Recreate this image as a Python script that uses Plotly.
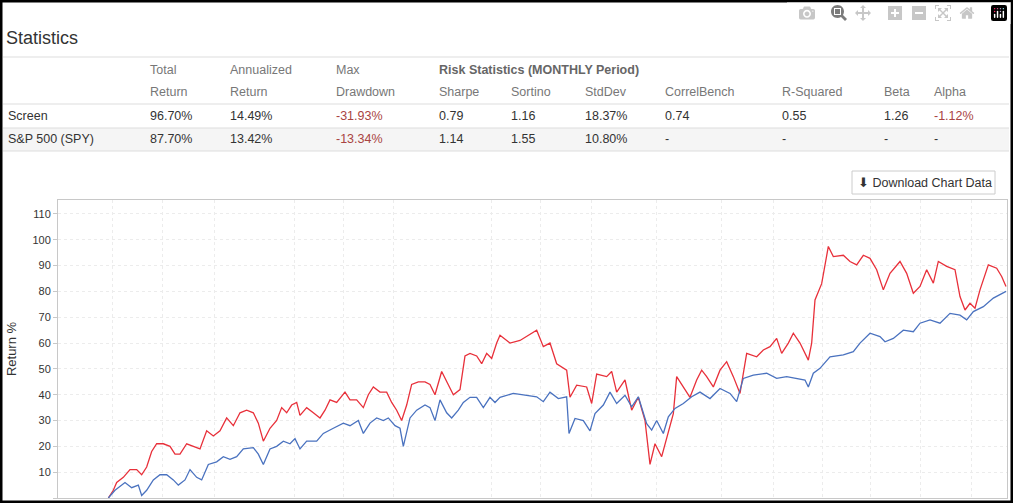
import plotly.graph_objects as go

# trace positions (horizontal units along the chart) and return % values
screen_t = [325, 340, 350, 370, 390, 410, 425, 440, 455, 470, 490, 510, 525, 540, 560, 580, 600, 620, 640, 660,
            680, 700, 720, 740, 760, 775, 790, 810, 830, 845, 860, 875, 890, 900, 920, 940, 960, 975, 990, 1010,
            1035, 1050, 1070, 1090, 1105, 1120, 1140, 1160, 1175, 1190, 1205, 1220, 1235, 1255, 1275, 1290, 1305,
            1325, 1340, 1360, 1380, 1395, 1410, 1430, 1445, 1460, 1475, 1490, 1500,
            1530, 1560, 1580, 1610, 1630, 1650, 1670, 1700, 1710, 1730, 1760, 1775, 1790, 1820, 1835, 1850, 1875,
            1895, 1915, 1935, 1950, 1965, 1985, 2005, 2020, 2030, 2050, 2070, 2090, 2105, 2120, 2140, 2160, 2180,
            2200, 2220, 2240, 2270, 2290, 2310, 2330, 2345, 2365, 2380, 2400, 2425, 2435, 2445, 2465, 2485, 2500,
            2530, 2550, 2570, 2590, 2610, 2630, 2650, 2670, 2700, 2720, 2740, 2760, 2780, 2800, 2815, 2840, 2865,
            2880, 2895, 2910, 2925, 2940, 2965, 2990, 3005, 3018]
screen_ret = [0, 3, 6, 8, 11, 11, 9, 12, 18, 21, 21, 20, 17, 17, 21, 20, 19, 26, 24, 26,
              31, 28, 33, 34, 33, 29, 22, 27, 30, 35, 33, 36, 37, 32, 35, 33, 31, 34, 38, 37,
              41, 38, 38, 35, 40, 43, 41, 41, 37, 34, 30, 36, 44, 45, 45, 44, 40,
              49, 45, 40, 42, 55, 56, 55, 52, 56, 54, 60, 63,
              60, 61, 62.5, 65, 58.6, 60, 52, 49.5, 39, 43.7, 43, 36.6, 48, 47, 49, 41, 45.7,
              34, 39, 30, 13, 21, 16, 25, 32.7, 47, 43, 39, 45.7, 49.5, 47, 43, 49.5, 52.8,
              47, 40.5, 56, 54.7, 57.3, 58.6, 61.8, 56, 60, 63.8, 60, 53.4, 60, 76.7, 83, 97.4, 93.5,
              94, 91.6, 90.3, 94, 92.8, 88.4, 80.6, 87, 91.6, 87, 79.3, 81.9, 88.4, 83.2, 91.6, 89.7, 88.4,
              78, 72.8, 75.4, 73.5, 80.6, 90.3, 89, 85.8, 81.9]

spy_t = [325, 345, 375, 395, 415, 425, 440, 460, 480, 500, 520, 535, 555, 570, 590, 605, 625, 650, 670, 690,
         710, 730, 760, 775, 790, 810, 830, 850, 870, 885, 900, 920, 950, 970, 1000, 1030, 1050, 1075, 1090,
         1110, 1130, 1150, 1165, 1185, 1200, 1210, 1230, 1250, 1275, 1290, 1305, 1320, 1340, 1355, 1375, 1390,
         1410, 1430, 1450, 1470, 1485, 1500,
         1540, 1580, 1610, 1630, 1650, 1675, 1700, 1707, 1725, 1750, 1770, 1785, 1810, 1830, 1850, 1875, 1895,
         1915, 1940, 1955, 1970, 1990, 2005, 2025, 2050, 2075, 2100, 2130, 2160, 2190, 2210, 2230, 2260, 2300,
         2330, 2360, 2390, 2415, 2425, 2440, 2460, 2490, 2530, 2560, 2580, 2610, 2640, 2655, 2680, 2710, 2740,
         2760, 2790, 2820, 2850, 2880, 2900, 2920, 2950, 2980, 3018]
spy_ret = [0, 3, 6, 4, 5, 1, 3, 7, 9, 9, 7, 5, 7, 11, 8, 7, 13, 14, 16, 15,
           16, 19, 19.5, 17, 13, 19, 20, 22, 21, 23, 19, 22, 22, 25, 27, 29, 28, 30, 25,
           29, 31, 30, 31, 28, 27, 20, 31, 34, 36, 35, 30, 38, 33, 31, 34, 37,
           39, 39, 35, 39, 37, 39,
           40.5, 39.8, 39.2, 37.3, 41, 38.5, 39.2, 25, 30.8, 30, 26, 32.7, 36, 41, 36.6, 39.8, 35.3,
           39.2, 28.8, 26.3, 30, 25, 31.4, 34.7, 36.6, 39.2, 41, 38.5, 42.4, 40.5, 37.3, 46.3, 47.6, 48.3,
           46.3, 47, 46.3, 45.7, 43, 48.3, 50.2, 54.7, 55.4, 56.7, 60, 63.8, 62.5, 60.5, 61.8, 65, 64.4,
           67.7, 69, 67.7, 71.5, 70.8, 69, 72.2, 74.1, 77.4, 80]

grid_t = [338, 487, 643, 882, 1030, 1180, 1475, 1620, 1773, 1970, 2165, 2320, 2468, 2610, 2762, 2913]

col_x = [148, 228, 334, 437, 509, 583, 663, 780, 882, 932]
head_1 = ["Total", "Annualized", "Max"]
head_2 = ["Return", "Return", "Drawdown", "Sharpe", "Sortino", "StdDev", "CorrelBench", "R-Squared", "Beta", "Alpha"]
row_names = ["Screen", "S&P 500 (SPY)"]
row_vals = [["96.70%", "14.49%", "-31.93%", "0.79", "1.16", "18.37%", "0.74", "0.55", "1.26", "-1.12%"],
            ["87.70%", "13.42%", "-13.34%", "1.14", "1.55", "10.80%", "-", "-", "-", "-"]]

W, H = 1013, 503
FONT = "Liberation Sans"

fig = go.Figure()
fig.add_trace(go.Scatter(x=screen_t, y=screen_ret, mode="lines", line=dict(color="#e8303a", width=1.3)))
fig.add_trace(go.Scatter(x=spy_t, y=spy_ret, mode="lines", line=dict(color="#4a72bf", width=1.3)))

def px(x):
    return x / W

def py(y):
    return 1 - y / H

fig.update_layout(
    width=W, height=H, margin=dict(l=0, r=0, t=0, b=0),
    paper_bgcolor="white", plot_bgcolor="white", showlegend=False,
    font=dict(family=FONT, color="#333"),
    xaxis=dict(domain=[px(58), px(1007)], range=[174, 3021], tickvals=grid_t, showticklabels=False,
               showgrid=True, gridcolor="#ececec", griddash="dot", zeroline=False,
               showline=True, linecolor="#c8c8c8", mirror=True, ticks=""),
    yaxis=dict(domain=[py(498), py(200)], range=[0, 115.4], tickvals=list(range(0, 111, 10)),
               showgrid=True, gridcolor="#ececec", griddash="dot", zeroline=False,
               showline=True, linecolor="#c8c8c8", mirror=True, ticks="outside", ticklen=4,
               tickcolor="#c8c8c8", tickfont=dict(size=11, color="#333"),
               title=dict(text="Return %", font=dict(size=13, color="#333"), standoff=12)),
)

shapes = []
ann = []

def text(x, y, s, size=12.5, color="#333", bold=False):
    ann.append(dict(x=px(x), y=py(y), xref="paper", yref="paper", text=f"<b>{s}</b>" if bold else s,
                    showarrow=False, xanchor="left", yanchor="middle",
                    font=dict(size=size, color=color, family=FONT)))

def hline(y):
    shapes.append(dict(type="line", xref="paper", yref="paper", x0=px(3), x1=px(1009), y0=py(y), y1=py(y),
                       line=dict(color="#dddddd", width=1)))

# table
shapes.append(dict(type="rect", xref="paper", yref="paper", x0=px(3), x1=px(1009), y0=py(151), y1=py(128),
                   fillcolor="#f5f5f5", line=dict(width=0), layer="below"))
for y in [57, 104, 128, 151]:
    hline(y)
text(4, 38, "Statistics", size=18, color="#333")
for i, h in enumerate(head_1):
    text(col_x[i], 70, h, color="#777")
text(col_x[3], 70, "Risk Statistics (MONTHLY Period)", color="#666", bold=True)
for i, h in enumerate(head_2):
    text(col_x[i], 92, h, color="#777")
for r, name in enumerate(row_names):
    y = 116 + r * 23
    text(6, y, name)
    for i, v in enumerate(row_vals[r]):
        text(col_x[i], y, v, color="#a94442" if v.startswith("-") and v != "-" else "#333")

# download button
shapes.append(dict(type="rect", xref="paper", yref="paper", x0=px(852), x1=px(995), y0=py(194), y1=py(171),
                   line=dict(color="#cccccc", width=1), fillcolor="white"))
text(856, 183, "⬇ Download Chart Data", size=12.5, color="#333")

# outer black frame of the screenshot
shapes.append(dict(type="rect", xref="paper", yref="paper", x0=0, x1=1, y0=0, y1=1,
                   line=dict(color="black", width=5)))

fig.update_layout(shapes=shapes, annotations=ann)
fig.write_html("out.html", post_script="document.body.style.margin='0';document.body.style.padding='0';")
